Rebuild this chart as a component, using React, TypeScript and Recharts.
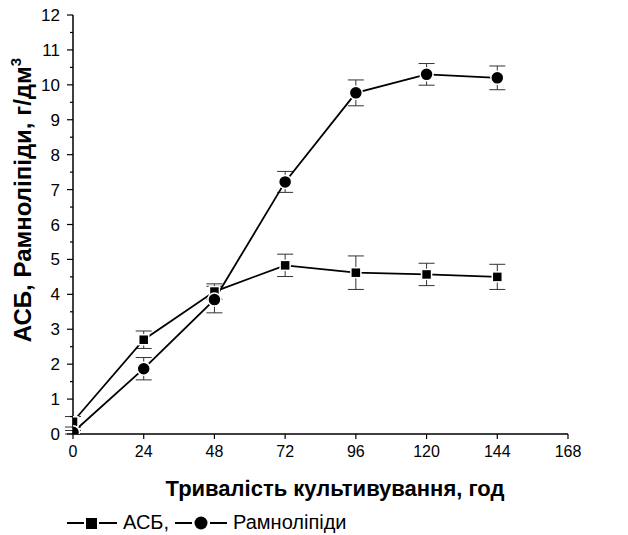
import { LineChart, Line, XAxis, YAxis, ErrorBar, Legend } from "recharts";

const hours = [0, 24, 48, 72, 96, 120, 144];
const asb = [0.35, 2.7, 4.08, 4.83, 4.62, 4.57, 4.5];
const asbErr = [0.15, 0.25, 0.22, 0.32, 0.48, 0.32, 0.36];
const rham = [0.05, 1.87, 3.85, 7.22, 9.77, 10.3, 10.2];
const rhamErr = [0.05, 0.32, 0.38, 0.3, 0.37, 0.31, 0.34];

const xTicks = [0, 24, 48, 72, 96, 120, 144, 168];
const yTicks = [
  0, 0.5, 1, 1.5, 2, 2.5, 3, 3.5, 4, 4.5, 5, 5.5, 6, 6.5, 7, 7.5, 8, 8.5, 9,
  9.5, 10, 10.5, 11, 11.5, 12,
];

const data = hours.map((h, i) => ({
  h,
  asb: asb[i],
  asbErr: asbErr[i],
  rham: rham[i],
  rhamErr: rhamErr[i],
}));

const FONT = "'Liberation Sans', Arial, sans-serif";
const Y_TICK = 6;
const Y_MARGIN = 7;

const YTick = (props: any) => {
  const { x, y, payload } = props;
  const v = payload.value;
  const major = Number.isInteger(v);
  const axisX = x + Y_TICK + Y_MARGIN;
  return (
    <g>
      <line
        x1={axisX - (major ? 6 : 3)}
        x2={axisX}
        y1={y}
        y2={y}
        stroke="#000"
        strokeWidth={1.2}
      />
      {major && (
        <text
          x={x}
          y={y}
          dy={6}
          textAnchor="end"
          fontSize={17}
          fontFamily={FONT}
          fill="#000"
        >
          {v}
        </text>
      )}
    </g>
  );
};

const Square = (props: any) => {
  const { cx, cy, index } = props;
  return (
    <rect
      key={`sq-${index}`}
      x={cx - 5}
      y={cy - 5}
      width={10}
      height={10}
      fill="#000"
      stroke="#fff"
      strokeWidth={1.5}
    />
  );
};

const Circle = (props: any) => {
  const { cx, cy, index } = props;
  return (
    <circle
      key={`ci-${index}`}
      cx={cx}
      cy={cy}
      r={6.5}
      fill="#000"
      stroke="#fff"
      strokeWidth={1.5}
    />
  );
};

const LegendContent = () => (
  <div
    style={{
      display: "flex",
      alignItems: "center",
      fontFamily: FONT,
      fontSize: 20,
      color: "#000",
      whiteSpace: "nowrap",
    }}
  >
    <svg width={50} height={14}>
      <line x1={0} x2={17} y1={7} y2={7} stroke="#000" strokeWidth={2} />
      <rect x={19} y={2} width={11} height={11} fill="#000" />
      <line x1={32} x2={50} y1={7} y2={7} stroke="#000" strokeWidth={2} />
    </svg>
    <span style={{ marginLeft: 6 }}>АСБ,</span>
    <svg width={52} height={14} style={{ marginLeft: 6 }}>
      <line x1={0} x2={17} y1={7} y2={7} stroke="#000" strokeWidth={2} />
      <circle cx={26} cy={7} r={6.5} fill="#000" />
      <line x1={35} x2={52} y1={7} y2={7} stroke="#000" strokeWidth={2} />
    </svg>
    <span style={{ marginLeft: 6 }}>Рамноліпіди</span>
  </div>
);

export default function App() {
  return (
    <div style={{ position: "absolute", left: 0, top: 0 }}>
      <LineChart
        width={628}
        height={535}
        data={data}
        margin={{ top: 15, right: 60, bottom: 0, left: 0 }}
      >
        <XAxis
          dataKey="h"
          type="number"
          domain={[0, 168]}
          ticks={xTicks}
          interval={0}
          allowDataOverflow
          height={101}
          tickSize={5}
          tickMargin={7}
          stroke="#000"
          axisLine={{ stroke: "#000", strokeWidth: 1.5 }}
          tickLine={{ stroke: "#000", strokeWidth: 1.2 }}
          tick={{ fontSize: 16, fontFamily: FONT, fill: "#000" }}
          label={{
            content: () => (
              <text
                x={335}
                y={496}
                textAnchor="middle"
                fontSize={22}
                fontWeight="bold"
                fontFamily={FONT}
                fill="#000"
              >
                Тривалість культивування, год
              </text>
            ),
          }}
        />
        <YAxis
          type="number"
          domain={[0, 12]}
          ticks={yTicks}
          interval={0}
          allowDataOverflow
          width={73}
          tickSize={Y_TICK}
          tickMargin={Y_MARGIN}
          tickLine={false}
          axisLine={{ stroke: "#000", strokeWidth: 1.5 }}
          tick={<YTick />}
          label={{
            content: () => (
              <text
                transform="translate(31 200) rotate(-90)"
                textAnchor="middle"
                fontSize={24}
                fontWeight="bold"
                fontFamily={FONT}
                fill="#000"
              >
                АСБ, Рамноліпіди, г/дм
                <tspan dy={-10} fontSize={15}>
                  3
                </tspan>
              </text>
            ),
          }}
        />
        <Legend
          layout="horizontal"
          verticalAlign="middle"
          align="center"
          content={<LegendContent />}
          wrapperStyle={{ position: "absolute", left: 67, top: 511, width: "auto" }}
        />
        <Line
          dataKey="asb"
          stroke="#000"
          strokeWidth={1.8}
          dot={Square}
          activeDot={false}
          isAnimationActive={false}
          legendType="square"
        >
          <ErrorBar dataKey="asbErr" width={8} stroke="#333" strokeWidth={1} direction="y" />
        </Line>
        <Line
          dataKey="rham"
          stroke="#000"
          strokeWidth={1.8}
          dot={Circle}
          activeDot={false}
          isAnimationActive={false}
          legendType="circle"
        >
          <ErrorBar dataKey="rhamErr" width={8} stroke="#333" strokeWidth={1} direction="y" />
        </Line>
      </LineChart>
    </div>
  );
}
